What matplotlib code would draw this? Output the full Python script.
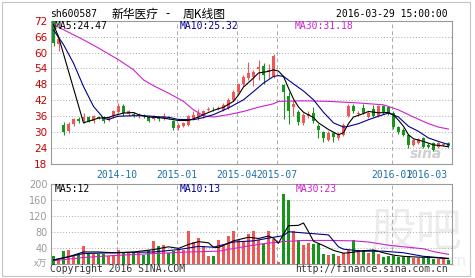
import numpy as np
import matplotlib.pyplot as plt
from matplotlib.patches import Rectangle

W, H = 475, 278

# weekly K-line, one entry per week (index 0 = first week shown)
opens = [71.8, 63.3, 32.8, 30.3, 33.0, 34.9, 34.3, 35.7, 34.1, 35.6,
         35.6, 34.5, 35.9, 37.7, 40.0, 36.9, 37.0, 36.2, 36.4, 35.8,
         34.9, 35.8, 35.3, 35.8, 34.1, 31.6, 32.2, 32.8, 35.3, 35.7,
         35.9, 38.4, 38.9, 38.7, 38.4, 39.1, 42.2, 45.3, 48.1, 50.4,
         50.6, 53.9, 54.9, 52.5, 51.0, 52.9, 47.6, 43.5, 39.5, 37.6,
         33.3, 36.0, 37.2, 32.4, 29.9, 27.2, 29.7, 27.8, 29.0, 36.2,
         40.0, 36.9, 39.1, 35.7, 38.7, 36.0, 39.7, 39.3, 37.2, 31.9,
         30.9, 29.0, 25.3, 25.9, 27.8, 25.3, 25.9, 24.4, 25.2, 25.9]
highs = [72.0, 66.0, 33.7, 33.8, 35.5, 35.8, 37.2, 36.2, 36.6, 36.2,
         36.0, 35.9, 38.3, 40.8, 40.6, 38.4, 37.5, 37.2, 36.9, 36.2,
         36.5, 36.2, 37.2, 36.2, 34.5, 33.3, 33.9, 36.6, 37.8, 38.7,
         38.4, 39.3, 39.4, 39.7, 41.0, 42.8, 46.0, 48.7, 51.5, 56.6,
         53.5, 57.3, 56.0, 55.5, 59.3, 52.9, 48.3, 45.0, 42.2, 38.3,
         37.2, 37.8, 39.4, 33.0, 30.5, 30.3, 30.2, 30.0, 33.4, 40.5,
         40.7, 37.8, 40.7, 38.0, 40.3, 40.2, 40.2, 39.8, 37.8, 32.5,
         31.4, 29.4, 27.5, 27.9, 28.2, 25.8, 26.3, 26.4, 25.9, 26.3]
lows = [62.3, 60.4, 28.8, 29.5, 32.5, 33.4, 33.4, 33.9, 33.6, 34.8,
        33.6, 34.2, 35.5, 37.2, 35.9, 35.9, 35.7, 35.5, 35.2, 34.0,
        34.5, 34.3, 34.7, 34.8, 30.9, 31.0, 31.8, 32.5, 34.9, 34.7,
        35.5, 37.9, 38.0, 38.3, 38.0, 38.7, 41.8, 44.8, 47.5, 49.8,
        47.5, 49.7, 48.3, 50.3, 50.5, 52.9, 35.0, 33.2, 36.0, 32.6,
        32.8, 35.3, 33.6, 27.8, 26.2, 26.8, 26.3, 27.2, 28.6, 35.8,
        37.2, 36.2, 36.8, 35.2, 35.8, 35.6, 37.0, 36.5, 31.3, 29.3,
        28.5, 24.0, 24.9, 25.5, 24.0, 23.9, 23.0, 24.0, 24.8, 24.5]
closes = [63.6, 65.1, 30.0, 33.2, 34.9, 34.1, 35.6, 34.3, 36.0, 35.3,
          34.1, 35.4, 37.8, 40.0, 37.1, 37.8, 36.3, 36.7, 35.9, 34.3,
          35.9, 34.9, 36.2, 35.2, 31.6, 32.8, 33.4, 36.0, 36.6, 37.4,
          37.8, 38.8, 38.6, 39.1, 40.3, 42.2, 45.3, 48.1, 50.6, 52.3,
          52.8, 54.4, 51.5, 53.3, 58.8, 52.9, 45.3, 38.0, 40.6, 34.0,
          36.5, 36.8, 34.1, 30.9, 27.8, 29.7, 28.2, 29.4, 32.8, 40.0,
          37.8, 37.1, 37.2, 37.4, 36.2, 39.7, 37.5, 37.2, 31.9, 29.9,
          29.0, 25.3, 26.9, 27.4, 24.4, 24.4, 23.4, 25.9, 25.4, 24.9]
# volume in 万手
volume = [18, 10, 31, 33, 22, 25, 43, 27, 25, 25,
          23, 20, 21, 33, 29, 27, 29, 27, 21, 35,
          56, 43, 46, 27, 31, 37, 35, 83, 54, 64,
          43, 18, 18, 60, 46, 68, 83, 58, 55, 75,
          83, 58, 48, 81, 62, 4, 174, 160, 81, 60,
          46, 52, 50, 48, 25, 21, 23, 18, 27, 33,
          58, 33, 33, 27, 35, 25, 17, 18, 20, 17,
          17, 18, 14, 14, 14, 18, 11, 11, 12, 8]

# moving averages (week index, value)
ma5_idx = [0, 1, 6, 9, 11, 12, 14, 16, 17, 19, 21, 23, 25, 27, 29, 30, 32, 34,
           36, 37, 38, 40, 41, 43, 44, 45, 46, 47, 48, 49, 50, 52, 53, 55, 57,
           58, 59, 60, 62, 63, 65, 67, 68, 69, 70, 71, 72, 74, 76, 78, 79]
ma5_val = [70.5, 66.0, 33.5, 35.3, 35.5, 36.2, 37.2, 37.4, 36.6, 35.7, 35.5,
           35.0, 34.4, 34.4, 35.7, 36.6, 38.2, 39.4, 41.6, 44.0, 47.0, 50.4,
           52.3, 52.9, 53.5, 53.0, 51.0, 46.6, 42.5, 39.5, 37.5, 35.5, 33.5,
           31.0, 29.0, 29.8, 33.2, 35.7, 37.0, 37.8, 37.3, 37.4, 36.5, 34.5,
           32.2, 29.0, 27.5, 26.5, 25.2, 24.8, 24.47]
ma10_idx = [0, 2, 4, 6, 8, 10, 11, 12, 13, 16, 19, 21, 23, 25, 28, 30, 32, 35,
            38, 40, 42, 44, 45, 46, 48, 50, 52, 54, 56, 58, 59, 61, 63, 65, 67,
            69, 71, 73, 75, 77, 79]
ma10_val = [68.5, 63.0, 56.0, 47.2, 39.7, 35.3, 34.7, 35.5, 36.0, 36.2, 36.1,
            35.8, 35.6, 34.8, 34.7, 35.5, 36.6, 39.1, 42.2, 45.3, 48.5, 51.0,
            51.3, 51.0, 48.2, 45.5, 42.2, 37.5, 33.5, 31.9, 32.2, 33.2, 34.7,
            36.0, 37.2, 35.7, 32.2, 30.3, 27.8, 26.5, 25.32]
ma30_idx = [0, 6, 9, 13, 16, 18, 20, 23, 26, 28, 30, 32, 35, 38, 41, 44, 45,
            50, 55, 61, 66, 69, 72, 75, 77, 79]
ma30_val = [70.5, 64.8, 61.7, 57.3, 53.5, 49.7, 47.5, 44.7, 41.6, 38.4, 36.2,
            35.7, 36.6, 37.8, 39.4, 40.7, 41.6, 41.8, 41.6, 41.0, 40.3, 38.4,
            35.7, 33.2, 31.9, 31.18]

vma5_idx = [0, 3, 6, 9, 12, 16, 20, 23, 25, 27, 29, 31, 32, 33, 36, 39, 41, 43,
            44, 45, 46, 47, 49, 50, 51, 52, 54, 56, 58, 59, 62, 64, 66, 68, 70,
            73, 76, 79]
vma5_val = [9, 17, 29, 29, 27, 29, 35, 42, 38, 48, 55, 52, 41, 40, 57, 66, 63,
            69, 64, 51, 74, 95, 96, 102, 80, 56, 45, 33, 26, 27, 32, 34, 27, 21,
            18, 16, 15, 12]
vma10_idx = [0, 6, 12, 20, 25, 29, 32, 36, 40, 44, 46, 47, 50, 53, 55, 57, 58,
             62, 66, 70, 74, 77, 79]
vma10_val = [8.5, 25, 27, 29, 35, 43, 41, 54, 57, 66, 70, 80, 77, 74, 72, 42,
             36, 31, 31, 27, 18, 15, 13]
vma30_idx = [0, 6, 12, 20, 27, 33, 37, 42, 46, 50, 55, 60, 63, 67, 70, 74, 76, 79]
vma30_val = [7, 15, 20, 25, 29, 31, 40, 50, 55, 58, 58, 57, 54, 46, 42, 37, 30, 23]

month_idx = [13, 25, 37, 45, 68, 75]
month_lab = ['2014-10', '2015-01', '2015-04', '2015-07', '2016-01', '2016-03']
price_ticks = [18, 24, 30, 36, 42, 48, 54, 60, 66, 72]
vol_ticks = [40, 80, 120, 160, 200]

RED = '#f05858'
GREEN = '#15961a'
C5, C10, C30 = '#000000', '#000090', '#cc22cc'
MONO = 'DejaVu Sans Mono'
CJK = ['Noto Sans CJK SC', 'DejaVu Sans']

def fx(x):
    return x / W

def fy(y):
    return 1 - y / H

fig = plt.figure(figsize=(W / 100, H / 100), dpi=100)
fig.patch.set_facecolor('white')

o = np.array(opens); c = np.array(closes)
hi = np.array(highs); lo = np.array(lows)
n = len(o)
x = np.arange(n)
up = c >= o
cols = np.where(up, RED, GREEN)

# ---- price panel
ax = fig.add_axes([fx(51), fy(164), fx(401), (164 - 20.7) / H])
ax.set_facecolor('none')
ax.vlines(x, lo, hi, colors=cols, lw=0.8, zorder=2)
ax.bar(x, np.maximum(np.abs(c - o), 0.15), bottom=np.minimum(o, c),
       width=0.72, color=cols, zorder=3)
ax.plot(ma30_idx, ma30_val, color=C30, lw=0.8, zorder=4)
ax.plot(ma10_idx, ma10_val, color=C10, lw=0.8, zorder=4)
ax.plot(ma5_idx, ma5_val, color=C5, lw=0.8, zorder=4)
ax.set_xlim(-0.5, 79.7)
ax.set_ylim(18, 72)
ax.set_yticks(price_ticks)
ax.set_xticks([m - 0.3 for m in month_idx], month_lab)
ax.tick_params(axis='y', length=0, pad=2.5, labelsize=7.5, labelcolor='#c80000')
ax.tick_params(axis='x', length=0, pad=4.5, labelsize=7, labelcolor='#1f72a6')
for t in ax.get_xticklabels():
    t.set_family(MONO)
ax.grid(axis='y', color='#aaaaaa', ls=(0, (1, 2)), lw=0.7)
for m in month_idx[:-1]:
    ax.axvline(m - 0.3, color='#aaaaaa', ls=(0, (4, 3)), lw=0.7, zorder=1)
ax.text(0.935, 0.07, 'sina', transform=ax.transAxes, fontsize=10,
        fontweight='bold', style='italic', color='#cfcfcf', ha='center',
        va='center', zorder=1)

# ---- volume panel
vax = fig.add_axes([fx(51), fy(263.5), fx(401), (263.5 - 184) / H])
vax.set_facecolor('none')
vax.bar(x, volume, width=0.78, color=cols, zorder=3)
vax.plot(vma30_idx, vma30_val, color=C30, lw=0.8, zorder=4)
vax.plot(vma10_idx, vma10_val, color=C10, lw=0.8, zorder=4)
vax.plot(vma5_idx, vma5_val, color=C5, lw=0.8, zorder=4)
vax.set_xlim(-0.5, 79.7)
vax.set_ylim(0, 200)
vax.set_yticks(vol_ticks)
vax.set_xticks([])
vax.tick_params(axis='y', length=0, pad=2.5, labelsize=7, labelcolor='#9a9a9a')
vax.grid(axis='y', color='#aaaaaa', ls=(0, (1, 2)), lw=0.7)
for m in month_idx[:-1]:
    vax.axvline(m - 0.3, color='#aaaaaa', ls=(0, (4, 3)), lw=0.7, zorder=1)

for a in (ax, vax):
    for s in a.spines.values():
        s.set_color('#9a9a9a')
        s.set_linewidth(0.8)

# watermark behind the volume bars
fig.text(fx(416), fy(232), '股吧', family=CJK, fontsize=33, color='#ececec',
         ha='center', va='center', zorder=-1)
fig.text(fx(457), fy(262), 'cn', fontsize=11, color='#ececec',
         ha='center', va='center', zorder=-1)

# ---- texts
fig.text(fx(50), fy(14), 'sh600587', family=MONO, fontsize=7, va='center')
fig.text(fx(112), fy(14), '新华医疗', family=CJK, fontsize=8.5, va='center')
fig.text(fx(168), fy(14), '-', family=CJK, fontsize=8.5, va='center', ha='center')
fig.text(fx(183), fy(14), '周K线图', family=CJK, fontsize=8.5, va='center')
fig.text(fx(448), fy(14), '2016-03-29 15:00:00', family=MONO, fontsize=7,
         va='center', ha='right')

fig.text(fx(55), fy(26), 'MA5:%.2f' % ma5_val[-1], family=MONO, fontsize=7,
         va='center', color=C5)
fig.text(fx(180), fy(26), 'MA10:%.2f' % ma10_val[-1], family=MONO, fontsize=7,
         va='center', color=C10)
fig.text(fx(295), fy(26), 'MA30:%.2f' % ma30_val[-1], family=MONO, fontsize=7,
         va='center', color=C30)

fig.text(fx(55), fy(189.5), 'MA5:%d' % vma5_val[-1], family=MONO, fontsize=7,
         va='center', color=C5)
fig.text(fx(180), fy(189.5), 'MA10:%d' % vma10_val[-1], family=MONO, fontsize=7,
         va='center', color=C10)
fig.text(fx(296), fy(189.5), 'MA30:%d' % vma30_val[-1], family=MONO, fontsize=7,
         va='center', color=C30)

fig.text(fx(47), fy(264), 'x万', family=CJK, fontsize=6.5, color='#9a9a9a',
         va='center', ha='right')
fig.text(fx(50), fy(269.5), 'Copyright 2016 SINA.COM', family=MONO, fontsize=7,
         va='center', color='#333333')
fig.text(fx(448), fy(269.5), 'http://finance.sina.com.cn', family=MONO,
         fontsize=7, va='center', ha='right', color='#333333')

# outer frame
fig.add_artist(Rectangle((fx(1.5), fy(275.5)), fx(468), (275.5 - 2) / H,
                         transform=fig.transFigure, fill=False,
                         edgecolor='#c4c4c4', lw=0.8))

fig.savefig('out.png', dpi=100)
